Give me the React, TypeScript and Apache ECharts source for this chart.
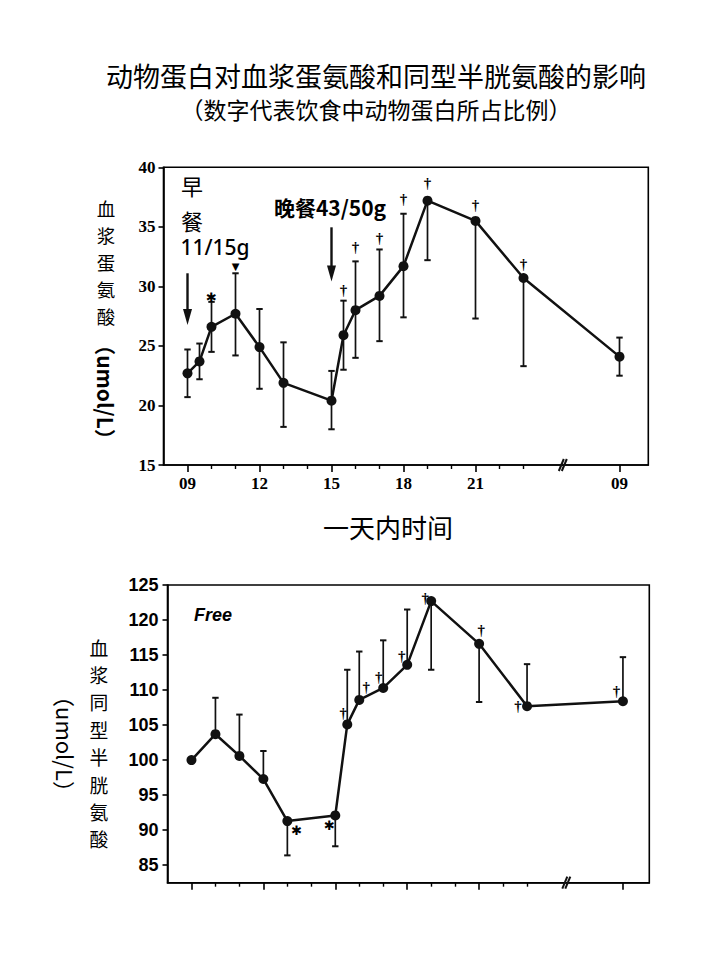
import React, { useEffect, useRef } from "react";
import * as echarts from "echarts";

// ---- Top chart: plasma methionine ----
const metHours = [9, 9.5, 10, 11, 12, 13, 15, 15.5, 16, 17, 18, 19, 21, 23, 27];
const metValues = [22.7, 23.7, 26.6, 27.7, 24.9, 21.9, 20.4, 25.9, 28.0, 29.2, 31.7, 37.2, 35.5, 30.7, 24.1];
const metUpper = [24.7, 25.2, 28.7, 31.1, 28.1, 25.3, 22.9, 28.8, 32.1, 33.1, 36.1, 37.2, 35.5, 30.7, 25.7];
const metLower = [20.7, 22.2, 24.5, 24.2, 21.4, 18.2, 18.0, 23.0, 24.0, 25.4, 27.4, 32.2, 27.3, 23.3, 22.5];
const metMarkX = [10, 11, 15.5, 16, 17, 18, 19, 21, 23];
const metMarkY = [29.1, 31.7, 29.7, 33.3, 34.1, 37.3, 38.7, 36.8, 31.9];
const metMarkText = ["✱", "▼", "†", "†", "†", "†", "†", "†", "†"];
const arrowX = [9, 15];
const arrowFrom = [31.1, 34.96];
const arrowTo = [26.76, 30.4];
const metAxisName = ["血", "浆", "蛋", "氨", "酸"];

// ---- Bottom chart: plasma homocysteine ----
const hcyHours = [9, 10, 11, 12, 13, 15, 15.5, 16, 17, 18, 19, 21, 23, 27];
const hcyValues = [100.0, 103.7, 100.6, 97.3, 91.3, 92.1, 105.1, 108.6, 110.3, 113.6, 122.7, 116.6, 107.7, 108.4];
const hcyUpper = [100.0, 108.9, 106.5, 101.3, 91.3, 92.1, 112.9, 115.5, 117.1, 121.5, 122.7, 116.6, 113.7, 114.7];
const hcyLower = [100.0, 103.7, 100.6, 97.3, 86.4, 87.7, 105.1, 108.6, 110.3, 113.6, 112.9, 108.3, 107.7, 108.4];
const hcyMarkX = [13.39, 14.76, 15.33, 16.29, 16.81, 17.77, 18.75, 21.09, 22.62, 26.73];
const hcyMarkY = [90.0, 90.7, 106.7, 110.5, 111.9, 114.8, 123.1, 118.6, 107.7, 109.8];
const hcyMarkText = ["✱", "✱", "†", "†", "†", "†", "†", "†", "†", "†"];
const hcyYTicks = [85, 90, 95, 100, 105, 110, 115, 120, 125];
const hcyAxisName = ["血", "浆", "同", "型", "半", "胱", "氨", "酸"];

// ---- Shared x axis ----
const tickHours = [9, 12, 15, 18, 21, 27];
const tickLabels = ["09", "12", "15", "18", "21", "09"];
const minorTickHours = [10, 11, 13, 14, 16, 17, 19, 20, 22, 23];
const breakHour = 24.7;

const BLACK = "#111";

function errRender(params: any, api: any) {
  const x = api.value(0);
  const top = api.coord([x, api.value(2)]);
  const bot = api.coord([x, api.value(1)]);
  const w = 3.2;
  const style = { stroke: BLACK, lineWidth: 1.7 };
  return {
    type: "group",
    children: [
      { type: "line", shape: { x1: top[0], y1: top[1], x2: bot[0], y2: bot[1] }, style },
      { type: "line", shape: { x1: top[0] - w, y1: top[1], x2: top[0] + w, y2: top[1] }, style: { stroke: BLACK, lineWidth: 2 } },
      { type: "line", shape: { x1: bot[0] - w, y1: bot[1], x2: bot[0] + w, y2: bot[1] }, style: { stroke: BLACK, lineWidth: 2 } },
    ],
  };
}

function markRender(texts: string[]) {
  return (params: any, api: any) => {
    const p = api.coord([api.value(0), api.value(1)]);
    const t = texts[params.dataIndex];
    const isDagger = t === "†";
    return {
      type: "text",
      x: p[0],
      y: p[1],
      style: {
        text: t,
        fill: "#000",
        align: "center",
        verticalAlign: "middle",
        fontSize: isDagger ? 15 : t === "▼" ? 10 : 13,
        fontWeight: "bold",
        fontFamily: isDagger ? "Liberation Serif" : "DejaVu Sans",
      },
    };
  };
}

function breakRender(params: any, api: any) {
  const p = api.coord([api.value(0), api.value(1)]);
  const mk = (dx: number) => ({
    type: "line",
    shape: { x1: p[0] - 4 + dx, y1: p[1] + 6, x2: p[0] + 1 + dx, y2: p[1] - 6 },
    style: { stroke: BLACK, lineWidth: 2 },
  });
  return { type: "group", children: [mk(-1.5), mk(1.5)] };
}

function arrowRender(params: any, api: any) {
  const x = api.value(0);
  const a = api.coord([x, api.value(1)]);
  const b = api.coord([x, api.value(2)]);
  const headLen = 16;
  const headW = 4.5;
  return {
    type: "group",
    children: [
      { type: "line", shape: { x1: a[0], y1: a[1], x2: b[0], y2: b[1] - headLen + 2 }, style: { stroke: BLACK, lineWidth: 2.4 } },
      {
        type: "polygon",
        shape: { points: [[b[0] - headW, b[1] - headLen], [b[0] + headW, b[1] - headLen], [b[0], b[1]]] },
        style: { fill: BLACK },
      },
    ],
  };
}

const tickLabelFor = (v: number) => {
  const i = tickHours.indexOf(v);
  return i >= 0 ? tickLabels[i] : "";
};

function xAxes(gridIndex: number, max: number) {
  const line = { show: true, onZero: false, lineStyle: { color: "#000", width: 1.6 } };
  return [
    {
      gridIndex,
      type: "value",
      min: 8,
      max,
      position: "bottom",
      axisLine: line,
      axisTick: { show: true, customValues: tickHours, length: 7, lineStyle: { color: "#000", width: 1.6 } },
      axisLabel:
        gridIndex === 0
          ? {
              show: true,
              customValues: tickHours,
              formatter: (v: number) => tickLabelFor(v),
              fontFamily: "Liberation Serif",
              fontWeight: "bold",
              fontSize: 17,
              color: "#000",
              margin: 10,
            }
          : { show: false },
      splitLine: { show: false },
    },
    {
      gridIndex,
      type: "value",
      min: 8,
      max,
      position: "bottom",
      offset: 0,
      axisLine: { show: false, onZero: false },
      axisTick: { show: true, customValues: minorTickHours, length: 4, lineStyle: { color: "#000", width: 1.4 } },
      axisLabel: { show: false },
      splitLine: { show: false },
    },
  ];
}

const cjk = "Noto Sans CJK SC";

function verticalChars(chars: string[], x: number, firstCenterY: number, pitch: number, fontSize: number) {
  return chars.map((c, i) => ({
    type: "text",
    x,
    y: firstCenterY + i * pitch,
    style: {
      text: c,
      fontFamily: cjk,
      fontSize,
      lineHeight: fontSize,
      fill: "#000",
      align: "center",
      verticalAlign: "middle",
    },
  }));
}

export default function App() {
  const ref = useRef<HTMLDivElement>(null);

  useEffect(() => {
    document.body.style.margin = "0";
    if (!ref.current) return;
    const chart = echarts.init(ref.current, undefined, { renderer: "svg" });

    const option: any = {
      animation: false,
      backgroundColor: "#fff",
      grid: [
        { left: 163.5, top: 167.3, width: 484.8, height: 297.7, show: true, borderColor: "#000", borderWidth: 1.6, backgroundColor: "transparent" },
        { left: 167.5, top: 585, width: 481.8, height: 297.7, show: true, borderColor: "#000", borderWidth: 1.6, backgroundColor: "transparent" },
      ],
      xAxis: [...xAxes(0, 28.2), ...xAxes(1, 28.1)],
      yAxis: [
        {
          gridIndex: 0,
          type: "value",
          min: 15,
          max: 40,
          interval: 5,
          axisLine: { show: true, lineStyle: { color: "#000", width: 1.6 } },
          axisTick: { show: true, length: 5, lineStyle: { color: "#000", width: 1.6 } },
          axisLabel: { fontFamily: "Liberation Serif", fontWeight: "bold", fontSize: 17, color: "#000", margin: 8 },
          splitLine: { show: false },
        },
        {
          gridIndex: 1,
          type: "value",
          min: 82.5,
          max: 125,
          axisLine: { show: true, lineStyle: { color: "#000", width: 1.6 } },
          axisTick: { show: true, customValues: hcyYTicks, length: 5, lineStyle: { color: "#000", width: 1.6 } },
          axisLabel: {
            customValues: hcyYTicks,
            fontFamily: "Liberation Sans Narrow, Liberation Sans",
            fontWeight: "bold",
            fontSize: 18,
            color: "#000",
            margin: 9,
          },
          splitLine: { show: false },
        },
      ],
      series: [
        // top
        {
          type: "custom",
          xAxisIndex: 0,
          yAxisIndex: 0,
          renderItem: errRender,
          encode: { x: 0, y: [1, 2] },
          data: metHours.map((h, i) => [h, metLower[i], metUpper[i]]),
          z: 2,
        },
        {
          type: "line",
          xAxisIndex: 0,
          yAxisIndex: 0,
          data: metHours.map((h, i) => [h, metValues[i]]),
          symbol: "circle",
          symbolSize: 10,
          lineStyle: { color: BLACK, width: 2.5 },
          itemStyle: { color: BLACK },
          z: 3,
        },
        {
          type: "custom",
          xAxisIndex: 0,
          yAxisIndex: 0,
          renderItem: markRender(metMarkText),
          encode: { x: 0, y: 1 },
          data: metMarkX.map((x, i) => [x, metMarkY[i]]),
          z: 4,
        },
        {
          type: "custom",
          xAxisIndex: 0,
          yAxisIndex: 0,
          renderItem: arrowRender,
          encode: { x: 0, y: [1, 2] },
          data: arrowX.map((x, i) => [x, arrowFrom[i], arrowTo[i]]),
          z: 4,
        },
        {
          type: "custom",
          xAxisIndex: 0,
          yAxisIndex: 0,
          renderItem: breakRender,
          encode: { x: 0, y: 1 },
          data: [[breakHour, 15]],
          z: 5,
        },
        // bottom
        {
          type: "custom",
          xAxisIndex: 2,
          yAxisIndex: 1,
          renderItem: errRender,
          encode: { x: 0, y: [1, 2] },
          data: hcyHours.map((h, i) => [h, hcyLower[i], hcyUpper[i]]),
          z: 2,
        },
        {
          type: "line",
          xAxisIndex: 2,
          yAxisIndex: 1,
          data: hcyHours.map((h, i) => [h, hcyValues[i]]),
          symbol: "circle",
          symbolSize: 10,
          lineStyle: { color: BLACK, width: 2.5 },
          itemStyle: { color: BLACK },
          z: 3,
        },
        {
          type: "custom",
          xAxisIndex: 2,
          yAxisIndex: 1,
          renderItem: markRender(hcyMarkText),
          encode: { x: 0, y: 1 },
          data: hcyMarkX.map((x, i) => [x, hcyMarkY[i]]),
          z: 4,
        },
        {
          type: "custom",
          xAxisIndex: 2,
          yAxisIndex: 1,
          renderItem: breakRender,
          encode: { x: 0, y: 1 },
          data: [[breakHour, 82.5]],
          z: 5,
        },
      ],
      graphic: [
        {
          type: "text",
          x: 376,
          y: 75,
          style: { text: "动物蛋白对血浆蛋氨酸和同型半胱氨酸的影响", fontFamily: cjk, fontSize: 27, fill: "#000", align: "center", verticalAlign: "middle" },
        },
        {
          type: "text",
          x: 376,
          y: 109,
          style: { text: "（数字代表饮食中动物蛋白所占比例）", fontFamily: cjk, fontSize: 23, fill: "#000", align: "center", verticalAlign: "middle" },
        },
        // top y axis name
        ...verticalChars(metAxisName, 106, 208, 27, 18.5),
        {
          type: "text",
          x: 106,
          y: 392,
          rotation: -Math.PI / 2,
          style: { text: "（umol/L）", fontFamily: cjk, fontSize: 21, fontWeight: "bold", fill: "#000", align: "center", verticalAlign: "middle" },
        },
        // top x axis name
        {
          type: "text",
          x: 388,
          y: 526,
          style: { text: "一天内时间", fontFamily: cjk, fontSize: 26, fill: "#000", align: "center", verticalAlign: "middle" },
        },
        // meal annotations
        {
          type: "text",
          x: 192,
          y: 185,
          style: { text: "早", fontFamily: cjk, fontSize: 22, fill: "#000", align: "center", verticalAlign: "middle" },
        },
        {
          type: "text",
          x: 192,
          y: 220,
          style: { text: "餐", fontFamily: cjk, fontSize: 22, fill: "#000", align: "center", verticalAlign: "middle" },
        },
        {
          type: "text",
          x: 215,
          y: 247,
          style: { text: "11/15g", fontFamily: "Noto Sans", fontSize: 21, fontWeight: 500, fill: "#000", align: "center", verticalAlign: "middle" },
        },
        {
          type: "text",
          x: 330,
          y: 207,
          style: { text: "晚餐43/50g", fontFamily: cjk, fontSize: 21, fontWeight: "bold", fill: "#000", align: "center", verticalAlign: "middle" },
        },
        // bottom annotations
        {
          type: "text",
          x: 194,
          y: 615,
          style: { text: "Free", fontFamily: "Liberation Sans", fontSize: 18, fontWeight: "bold", fontStyle: "italic", fill: "#000", align: "left", verticalAlign: "middle" },
        },
        ...verticalChars(hcyAxisName, 99, 647, 27.4, 18.8),
        {
          type: "text",
          x: 66,
          y: 744,
          rotation: -Math.PI / 2,
          style: { text: "（umol/L）", fontFamily: cjk, fontSize: 22, fill: "#000", align: "center", verticalAlign: "middle" },
        },
      ],
    };

    chart.setOption(option);
    return () => chart.dispose();
  }, []);

  return <div ref={ref} style={{ width: 720, height: 960 }} />;
}
